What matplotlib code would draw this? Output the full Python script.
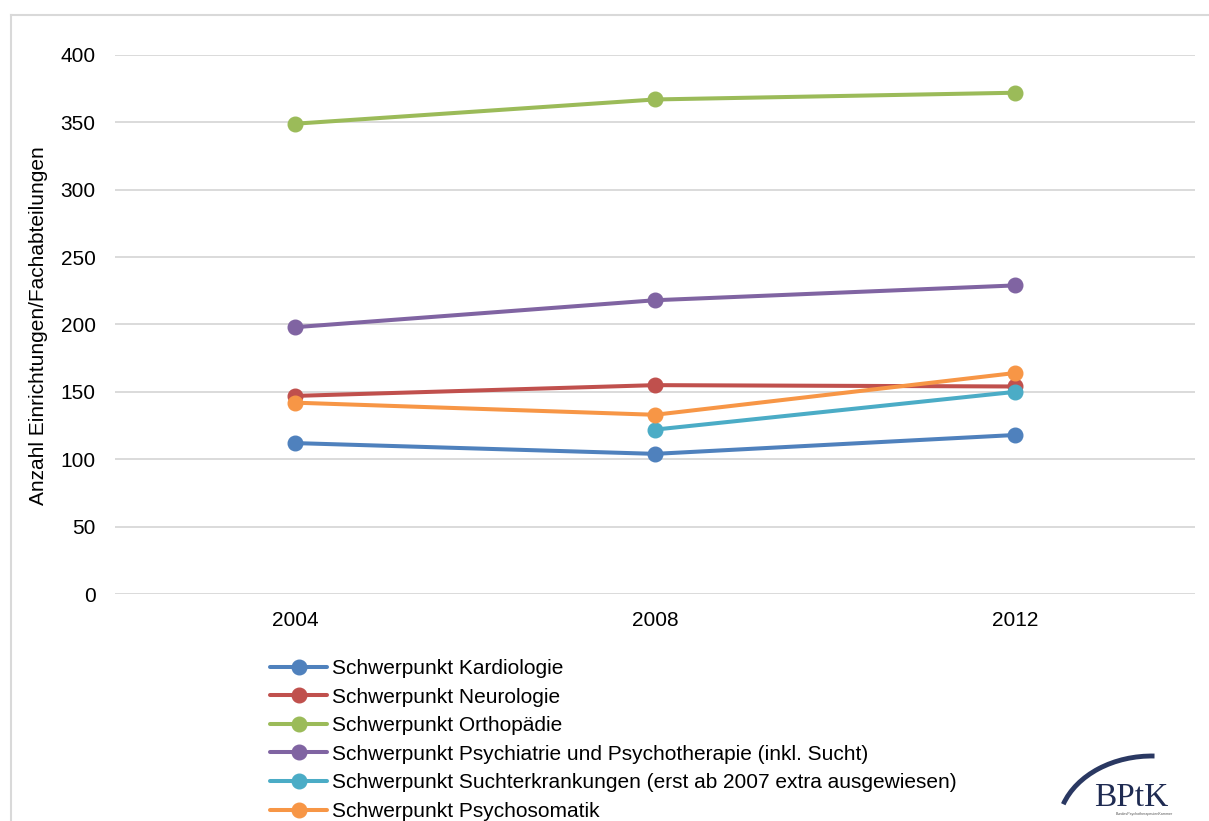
import numpy as np
import matplotlib.pyplot as plt
from matplotlib.patches import Arc
from matplotlib.lines import Line2D

plt.rcParams["font.family"] = ["Liberation Sans", "DejaVu Sans"]

years = ["2004", "2008", "2012"]

kardiologie = [112, 104, 118]
neurologie = [147, 155, 154]
orthopaedie = [349, 367, 372]
psychiatrie = [198, 218, 229]
sucht = [np.nan, 122, 150]
psychosomatik = [142, 133, 164]

series = [
    ("Schwerpunkt Kardiologie", kardiologie, "#4f81bd"),
    ("Schwerpunkt Neurologie", neurologie, "#c0504d"),
    ("Schwerpunkt Orthopädie", orthopaedie, "#9bbb59"),
    ("Schwerpunkt Psychiatrie und Psychotherapie (inkl. Sucht)", psychiatrie, "#8064a2"),
    ("Schwerpunkt Suchterkrankungen (erst ab 2007 extra ausgewiesen)", sucht, "#4bacc6"),
    ("Schwerpunkt Psychosomatik", psychosomatik, "#f79646"),
]

W, H = 1209, 821
fig = plt.figure(figsize=(W / 100, H / 100), dpi=100)
ax = fig.add_axes([115 / W, 1 - 594 / H, 1080 / W, 539 / H])

x = np.arange(len(years))
for label, vals, color in series:
    ax.plot(x, vals, color=color, lw=2.9, marker="o", markersize=10.5,
            label=label, solid_capstyle="round")

ax.set_xlim(-0.5, len(years) - 0.5)
ax.set_ylim(0, 400)
ax.set_yticks(range(0, 401, 50))
ax.set_xticks(x)
ax.set_xticklabels(years)
ax.tick_params(axis="both", length=0, labelsize=15)
ax.tick_params(axis="y", pad=14)
ax.tick_params(axis="x", pad=12)
ax.grid(axis="y", color="#d4d4d4", lw=1.2)
ax.set_axisbelow(True)
for s in ax.spines.values():
    s.set_visible(False)

ax.set_ylabel("Anzahl Einrichtungen/Fachabteilungen", fontsize=15)
ax.yaxis.set_label_coords(-0.062, 0.497)

fig.legend(loc="upper left", bbox_to_anchor=(270 / W, 1 - 659 / H),
           frameon=False, fontsize=15, handlelength=2.75, handletextpad=0.25,
           labelspacing=0.46, borderpad=0, borderaxespad=0)

# outer frame
fig.add_artist(Line2D([11 / W, 11 / W], [0, 1 - 15 / H], color="#d9d9d9",
                      lw=1.5, transform=fig.transFigure))
fig.add_artist(Line2D([11 / W, 1], [1 - 15 / H, 1 - 15 / H], color="#d9d9d9",
                      lw=1.5, transform=fig.transFigure))

# BPtK logo
logo = fig.add_axes([1050 / W, 0, 150 / W, 76 / H])
logo.set_xlim(1050, 1200)
logo.set_ylim(821, 745)
logo.axis("off")
logo.add_patch(Arc((1152, 828), 188, 144, theta1=195, theta2=272,
                   color="#2a3862", lw=3.5))
logo.text(1094, 806, "BPtK", family="Liberation Serif", fontsize=24,
          color="#1f2b52", va="baseline")
logo.text(1116, 814, "BundesPsychotherapeutenKammer", fontsize=2.6,
          color="#555555", va="center")

fig.savefig("out.png", dpi=100)
